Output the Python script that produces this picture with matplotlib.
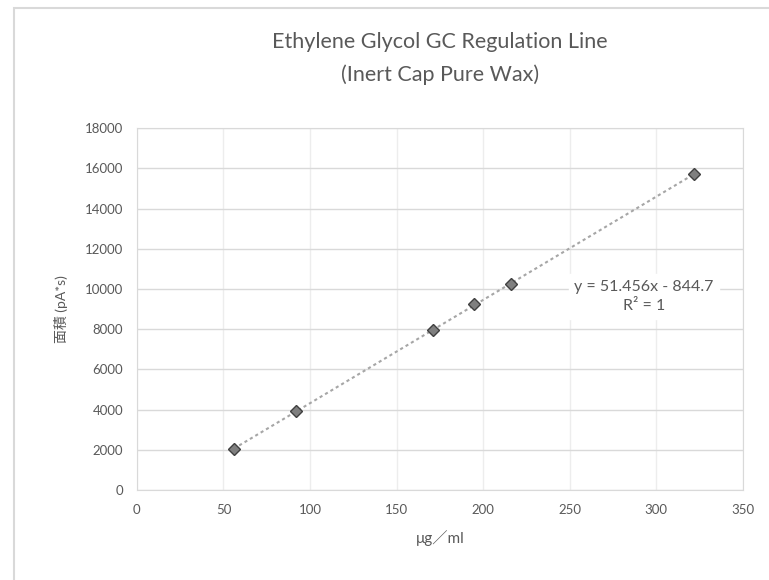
# -*- coding: utf-8 -*-
import numpy as np
import matplotlib.pyplot as plt
from matplotlib.patches import Rectangle

plt.rcParams['font.family'] = ['Lato', 'Noto Sans CJK JP', 'DejaVu Sans']

# data
conc = [56, 92, 171, 195, 216, 322]          # µg/ml
area = [2040, 3930, 7960, 9250, 10250, 15720]
x_ticks = [0, 50, 100, 150, 200, 250, 300, 350]
y_ticks = [0, 2000, 4000, 6000, 8000, 10000, 12000, 14000, 16000, 18000]
title = 'Ethylene Glycol GC Regulation Line\n(Inert Cap Pure Wax)'
eq_text = 'y = 51.456x - 844.7\nR² = 1'

grey = '#595959'
grid = '#d9d9d9'

fig = plt.figure(figsize=(7.69, 5.80), dpi=100)
# outer chart frame (cropped at right/bottom in the reference)
fig.patches.append(Rectangle((14 / 769, -0.1), 1.2, 1 - 8 / 580 + 0.1,
                             transform=fig.transFigure, fill=False,
                             edgecolor=grid, linewidth=1.5))

ax = fig.add_axes([0.178, 0.155, 0.788, 0.624])

# linear regression line (dotted)
k, b = np.polyfit(conc, area, 1)
xs = np.array([min(conc), max(conc)])
ax.plot(xs, k * xs + b, linestyle=(0, (1.5, 1.5)), color='#a6a6a6', linewidth=1.5, zorder=2)

# points
ax.plot(conc, area, linestyle='none', marker='D', markersize=6,
        markerfacecolor='#7f7f7f', markeredgecolor='#404040', zorder=3)

ax.set_xlim(0, 350)
ax.set_ylim(0, 18000)
ax.set_xticks(x_ticks)
ax.set_yticks(y_ticks)
ax.grid(True, axis='y', color=grid, linewidth=1)
ax.grid(True, axis='x', color='#ededed', linewidth=1)
ax.set_axisbelow(True)
for s in ax.spines.values():
    s.set_color(grid)
ax.tick_params(colors=grey, labelsize=9.5, length=0, pad=10)

ax.set_xlabel('μg／ml', color=grey, fontsize=11, labelpad=10)
ax.set_ylabel('面積 (pA*s)', color=grey, fontsize=10, labelpad=12)

ax.text(293, 10450, eq_text, color=grey, fontsize=11.5, ha='center', va='top',
        linespacing=1.5, backgroundcolor='white', zorder=4)

fig.text(0.572, 0.945, title, color=grey, fontsize=15.5, ha='center', va='top',
         linespacing=1.75)

fig.savefig('out.png', dpi=100)
